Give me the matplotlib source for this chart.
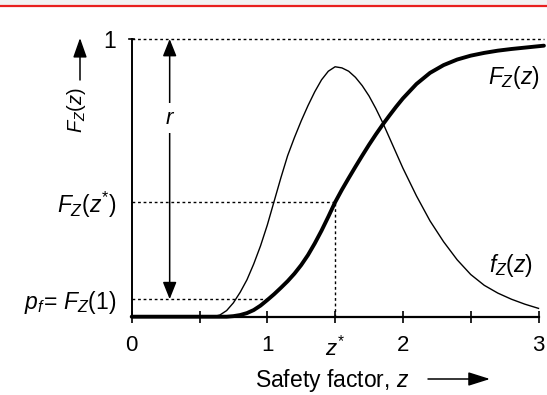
import matplotlib
matplotlib.use("Agg")
import matplotlib.pyplot as plt
from matplotlib.lines import Line2D
from matplotlib.patches import FancyArrowPatch, Rectangle

plt.rcParams['font.family'] = ['Liberation Sans', 'DejaVu Sans']
plt.rcParams['mathtext.fontset'] = 'custom'
plt.rcParams['mathtext.it'] = 'Liberation Sans:italic'
plt.rcParams['mathtext.rm'] = 'Liberation Sans'
plt.rcParams['mathtext.cal'] = 'Liberation Sans:italic'

# ---- data ----
z_cdf = [0.0, 0.5, 0.7, 0.75, 0.8, 0.85, 0.9, 0.95, 1.0, 1.05, 1.1, 1.15, 1.2, 1.25, 1.3,
         1.35, 1.4, 1.45, 1.5, 1.55, 1.6, 1.65, 1.7, 1.75, 1.8, 1.85, 1.9, 1.95, 2.0,
         2.1, 2.2, 2.3, 2.4, 2.5, 2.6, 2.7, 2.8, 2.9, 3.0, 3.04]
F_cdf = [0.0, 0.0, 0.0, 0.002, 0.006, 0.013, 0.024, 0.04, 0.06, 0.081, 0.104, 0.128,
         0.155, 0.186, 0.222, 0.264, 0.31, 0.36, 0.412, 0.457, 0.499, 0.54, 0.58, 0.619,
         0.656, 0.691, 0.724, 0.756, 0.786, 0.838, 0.878, 0.906, 0.926, 0.94, 0.95,
         0.958, 0.964, 0.969, 0.974, 0.976]

z_pdf = [0.0, 0.6, 0.65, 0.7, 0.75, 0.8, 0.85, 0.9, 0.95, 1.0, 1.05, 1.1, 1.15, 1.2, 1.25,
         1.3, 1.35, 1.4, 1.45, 1.5, 1.55, 1.6, 1.65, 1.7, 1.75, 1.8, 1.85, 1.9, 1.95, 2.0,
         2.1, 2.2, 2.3, 2.4, 2.5, 2.6, 2.7, 2.8, 2.9, 3.0]
f_pdf = [0.0, 0.0, 0.006, 0.022, 0.05, 0.088, 0.133, 0.19, 0.255, 0.33, 0.415, 0.50,
         0.58, 0.645, 0.705, 0.76, 0.81, 0.853, 0.884, 0.9, 0.896, 0.884, 0.862, 0.832,
         0.795, 0.75, 0.70, 0.645, 0.59, 0.535, 0.435, 0.345, 0.27, 0.205, 0.152, 0.113,
         0.085, 0.063, 0.045, 0.03]

z_star = 1.5
F_star = 0.414
p_f = 0.063

x_ticks = [0, 1, z_star, 2, 3]
x_ticklabels = ['0', '1', '$z^{*}$', '2', '3']
x_minor = [0.5, 2.5]
y_ticks = [p_f, F_star, 1.0]
y_ticklabels = [r'$p_f\!=\,F_Z(1)$', r'$F_Z(z^{*})$', '1']

# ---- figure ----
W, H = 547, 395
fig = plt.figure(figsize=(W / 100, H / 100), dpi=100)
x0, x1 = 131.7, 538.5
y0, y1 = 316.7, 39.0
ax = fig.add_axes([x0 / W, 1 - y0 / H, (x1 - x0) / W, (y0 - y1) / H])
ax.set_xlim(0, 3)
ax.set_ylim(0, 1)

# curves
ax.plot(z_pdf, f_pdf, color='black', lw=1.0, solid_joinstyle='round', clip_on=False)
ax.plot(z_cdf, F_cdf, color='black', lw=2.8, solid_joinstyle='round',
        solid_capstyle='round', clip_on=False)

# dotted guide lines
dot = dict(color='black', lw=1.0, ls=(0, (2, 2)), clip_on=False)
ax.plot([0, 3.04], [1, 1], **dot)
ax.plot([0, z_star], [F_star, F_star], **dot)
ax.plot([z_star, z_star], [0, F_star], **dot)
ax.plot([0, 1], [p_f, p_f], **dot)

# spines / ticks
for s in ['top', 'right']:
    ax.spines[s].set_visible(False)
ax.spines['left'].set_linewidth(1.4)
ax.spines['bottom'].set_linewidth(1.6)
ax.set_xticks(x_ticks)
ax.set_xticklabels(x_ticklabels)
ax.set_xticks(x_minor, minor=True)
ax.tick_params(axis='x', which='both', direction='inout', length=8, width=1.2,
               labelsize=16, pad=9)
ax.set_yticks(y_ticks)
ax.set_yticklabels(y_ticklabels)
ax.tick_params(axis='y', which='both', length=0, labelsize=16.5, pad=11)
# T cap at top of y axis
ax.plot([-0.02, 0.02], [1, 1], color='black', lw=1.2, clip_on=False)

# r double arrow
zr = 0.28
aprops = dict(arrowstyle='-|>,head_length=0.75,head_width=0.3', mutation_scale=14,
              color='black', lw=1.1, shrinkA=0, shrinkB=0)
ax.annotate('', xy=(zr, 1.0), xytext=(zr, 0.72), arrowprops=aprops)
ax.annotate('', xy=(zr, p_f), xytext=(zr, 0.72), arrowprops=aprops)
ax.text(zr, 0.715, '$r$', fontsize=16, ha='center', va='center',
        bbox=dict(facecolor='white', edgecolor='none', pad=3))

# curve labels
ax.text(2.82, 0.86, '$F_Z(z)$', fontsize=16.5, ha='center', va='center')
ax.text(2.80, 0.186, '$f_Z(z)$', fontsize=16.5, ha='center', va='center')

# y-axis label with arrow
fig.text(77 / W, 1 - 110 / H, '$F_Z(z)$', rotation=90, fontsize=14.5,
         ha='center', va='center')
fig.add_artist(FancyArrowPatch(
    (80 / W, 1 - 80 / H), (80 / W, 1 - 38 / H), transform=fig.transFigure,
    arrowstyle='-|>,head_length=0.85,head_width=0.3', mutation_scale=14,
    color='black', lw=1.1, shrinkA=0, shrinkB=0))

# x-axis label with arrow
fig.text(255 / W, 1 - 380 / H, 'Safety factor, $z$', fontsize=16.5,
         ha='left', va='center')
fig.add_artist(FancyArrowPatch(
    (428 / W, 1 - 379 / H), (490 / W, 1 - 379 / H), transform=fig.transFigure,
    arrowstyle='-|>,head_length=0.95,head_width=0.3', mutation_scale=14,
    color='black', lw=1.1, shrinkA=0, shrinkB=0))

# red border line at top
fig.add_artist(Line2D([0, 1], [1 - 6 / H, 1 - 6 / H], transform=fig.transFigure,
                      color='#e8201e', lw=1.6))
fig.patches.append(Rectangle((0, 1 - 5 / H), 1, 5 / H, transform=fig.transFigure,
                             color='#f2f2f2', zorder=-1))

fig.savefig('out.png', dpi=100)
